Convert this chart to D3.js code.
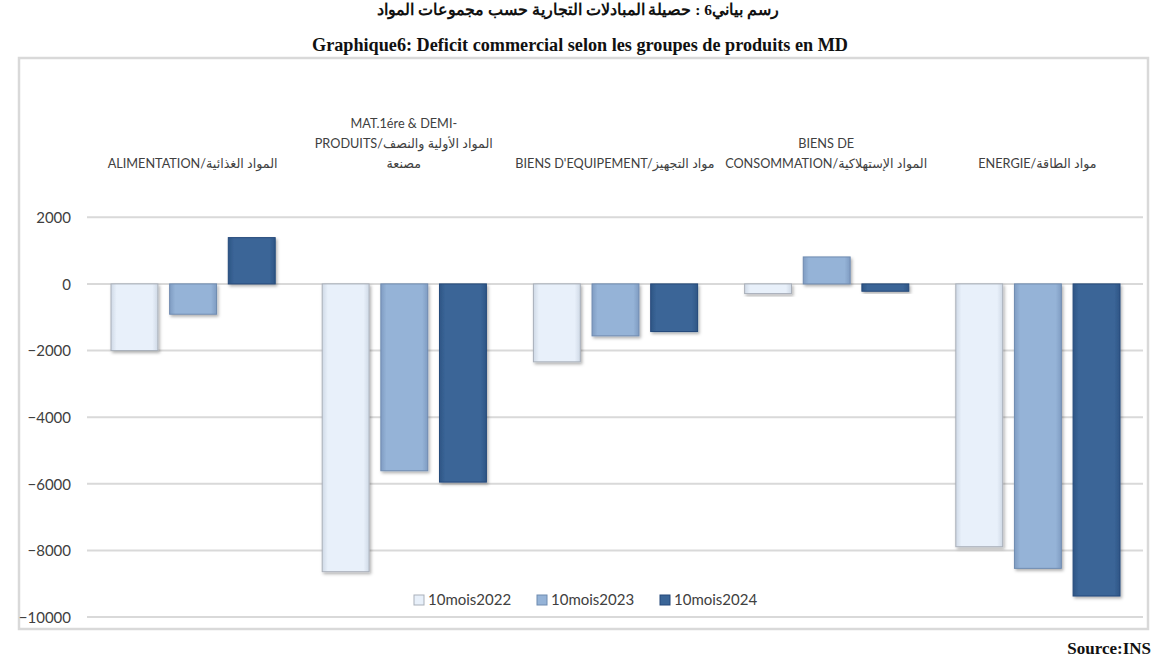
<!DOCTYPE html>
<html><head><meta charset="utf-8">
<script src="https://cdn.jsdelivr.net/npm/d3@7"></script>
<style>
html,body{margin:0;padding:0;background:#fff;}
svg{display:block;}
</style>
</head><body>
<svg id="chart" width="1167" height="672"></svg>
<script>
// ---- data ----
const categories = ["ALIMENTATION", "MAT", "EQUIPEMENT", "CONSOMMATION", "ENERGIE"];
const categoryLabels = [
  ["ALIMENTATION/المواد الغذائية"],
  ["MAT.1ére & DEMI-", "PRODUITS/المواد الأولية والنصف", "مصنعة"],
  ["BIENS D'EQUIPEMENT/مواد التجهيز"],
  ["BIENS DE", "CONSOMMATION/المواد الإستهلاكية"],
  ["ENERGIE/مواد الطاقة"]
];
const seriesNames = ["10mois2022", "10mois2023", "10mois2024"];
const values2022 = [-2000, -8640, -2340, -290, -7890];
const values2023 = [-910, -5610, -1560, 810, -8540];
const values2024 = [1390, -5950, -1430, -220, -9370];
const yTicks = [2000, 0, -2000, -4000, -6000, -8000, -10000];
const titleAr = "رسم بياني6 : حصيلة المبادلات التجارية حسب مجموعات المواد";
const titleFr = "Graphique6: Deficit commercial selon les groupes de produits en MD";
const sourceText = "Source:INS";

const seriesValues = [values2022, values2023, values2024];
const fills = ["#e8f0fa", "#95b3d7", "#3a6597"];
const edges = ["#a9b0ba", "#6f8bb0", "#24497a"];
const darkSide = ["#cfd9e6", "#7f9cc2", "#2f5585"];

const svg = d3.select("#chart");
const defs = svg.append("defs");
const f = defs.append("filter").attr("id","shadow").attr("x","-20%").attr("y","-20%").attr("width","150%").attr("height","150%");
f.append("feDropShadow").attr("dx",1.5).attr("dy",2).attr("stdDeviation",1.6).attr("flood-color","#000").attr("flood-opacity",0.3);
fills.forEach((c,i)=>{
  const g = defs.append("linearGradient").attr("id","grad"+i).attr("x1","0").attr("x2","1").attr("y1","0").attr("y2","0");
  g.append("stop").attr("offset","0").attr("stop-color",darkSide[i]);
  g.append("stop").attr("offset","0.12").attr("stop-color",c);
  g.append("stop").attr("offset","0.88").attr("stop-color",c);
  g.append("stop").attr("offset","1").attr("stop-color",darkSide[i]);
});

// titles
svg.append("text").attr("x",578).attr("y",15).attr("text-anchor","middle")
  .attr("font-family","'Liberation Serif','DejaVu Serif',serif").attr("font-weight","bold").attr("font-size",15.5)
  .attr("fill","#111").text(titleAr);
svg.append("text").attr("x",580).attr("y",51).attr("text-anchor","middle")
  .attr("font-family","'Liberation Serif',serif").attr("font-weight","bold").attr("font-size",18.2)
  .attr("fill","#111").text(titleFr);

// frame
svg.append("rect").attr("x",19).attr("y",58).attr("width",1129).attr("height",571)
  .attr("fill","none").attr("stroke","#d9d9d9").attr("stroke-width",2.5);

// scales
const left = 87, right = 1143;
const x0 = d3.scaleBand().domain(categories).range([left, right]).paddingInner(0).paddingOuter(0);
const x1 = d3.scaleBand().domain(seriesNames).range([24, x0.bandwidth()-23]).paddingInner(0.2).paddingOuter(0);
const y = d3.scaleLinear().domain([-10000, 2000]).range([617, 217.3]);

// gridlines
svg.append("g").selectAll("line").data(yTicks).join("line")
  .attr("x1",left).attr("x2",right).attr("y1",d=>y(d)).attr("y2",d=>y(d))
  .attr("stroke","#d9d9d9").attr("stroke-width",2);

// y axis labels
const yAxis = d3.axisLeft(y).tickValues(yTicks).tickSize(0).tickPadding(0).tickFormat(d3.format("d"));
const ya = svg.append("g").attr("transform","translate(71,0)").call(yAxis);
ya.select(".domain").remove();
ya.selectAll("text").attr("font-family","Lato, 'Open Sans', sans-serif").attr("font-size",15).attr("fill","#404040").attr("dy","0.35em");

// category labels (top)
const lab = svg.append("g");
categoryLabels.forEach((lines,i)=>{
  const cx = x0(categories[i]) + x0.bandwidth()/2;
  lines.forEach((ln,j)=>{
    const yy = 168 - (lines.length-1-j)*20;
    lab.append("text").attr("x",cx).attr("y",yy).attr("text-anchor","middle")
      .attr("font-family","Lato, 'DejaVu Sans', sans-serif").attr("font-size",12.7).attr("fill","#404040")
      .text(ln);
  });
});

// bars
const data = [];
categories.forEach((c,i)=>seriesNames.forEach((s,k)=>data.push({c,s,k,v:seriesValues[k][i]})));
svg.append("g").selectAll("rect").data(data).join("rect")
  .attr("x",d=>x0(d.c)+x1(d.s))
  .attr("width",x1.bandwidth())
  .attr("y",d=>y(Math.max(0,d.v)))
  .attr("height",d=>Math.abs(y(d.v)-y(0)))
  .attr("fill",d=>"url(#grad"+d.k+")")
  .attr("stroke",d=>edges[d.k]).attr("stroke-width",1)
  .attr("filter","url(#shadow)");

// legend
const lg = svg.append("g");
const legX = [414, 537, 660];
seriesNames.forEach((s,k)=>{
  lg.append("rect").attr("x",legX[k]).attr("y",595).attr("width",10).attr("height",10)
    .attr("fill",fills[k]).attr("stroke",edges[k]).attr("stroke-width",1);
  lg.append("text").attr("x",legX[k]+14).attr("y",600).attr("dy","0.35em")
    .attr("font-family","Lato, 'Open Sans', sans-serif").attr("font-size",15).attr("fill","#404040").text(s);
});

// source
svg.append("text").attr("x",1151).attr("y",654).attr("text-anchor","end")
  .attr("font-family","'Liberation Serif',serif").attr("font-weight","bold").attr("font-size",17)
  .attr("fill","#111").text(sourceText);
</script>
</body></html>
